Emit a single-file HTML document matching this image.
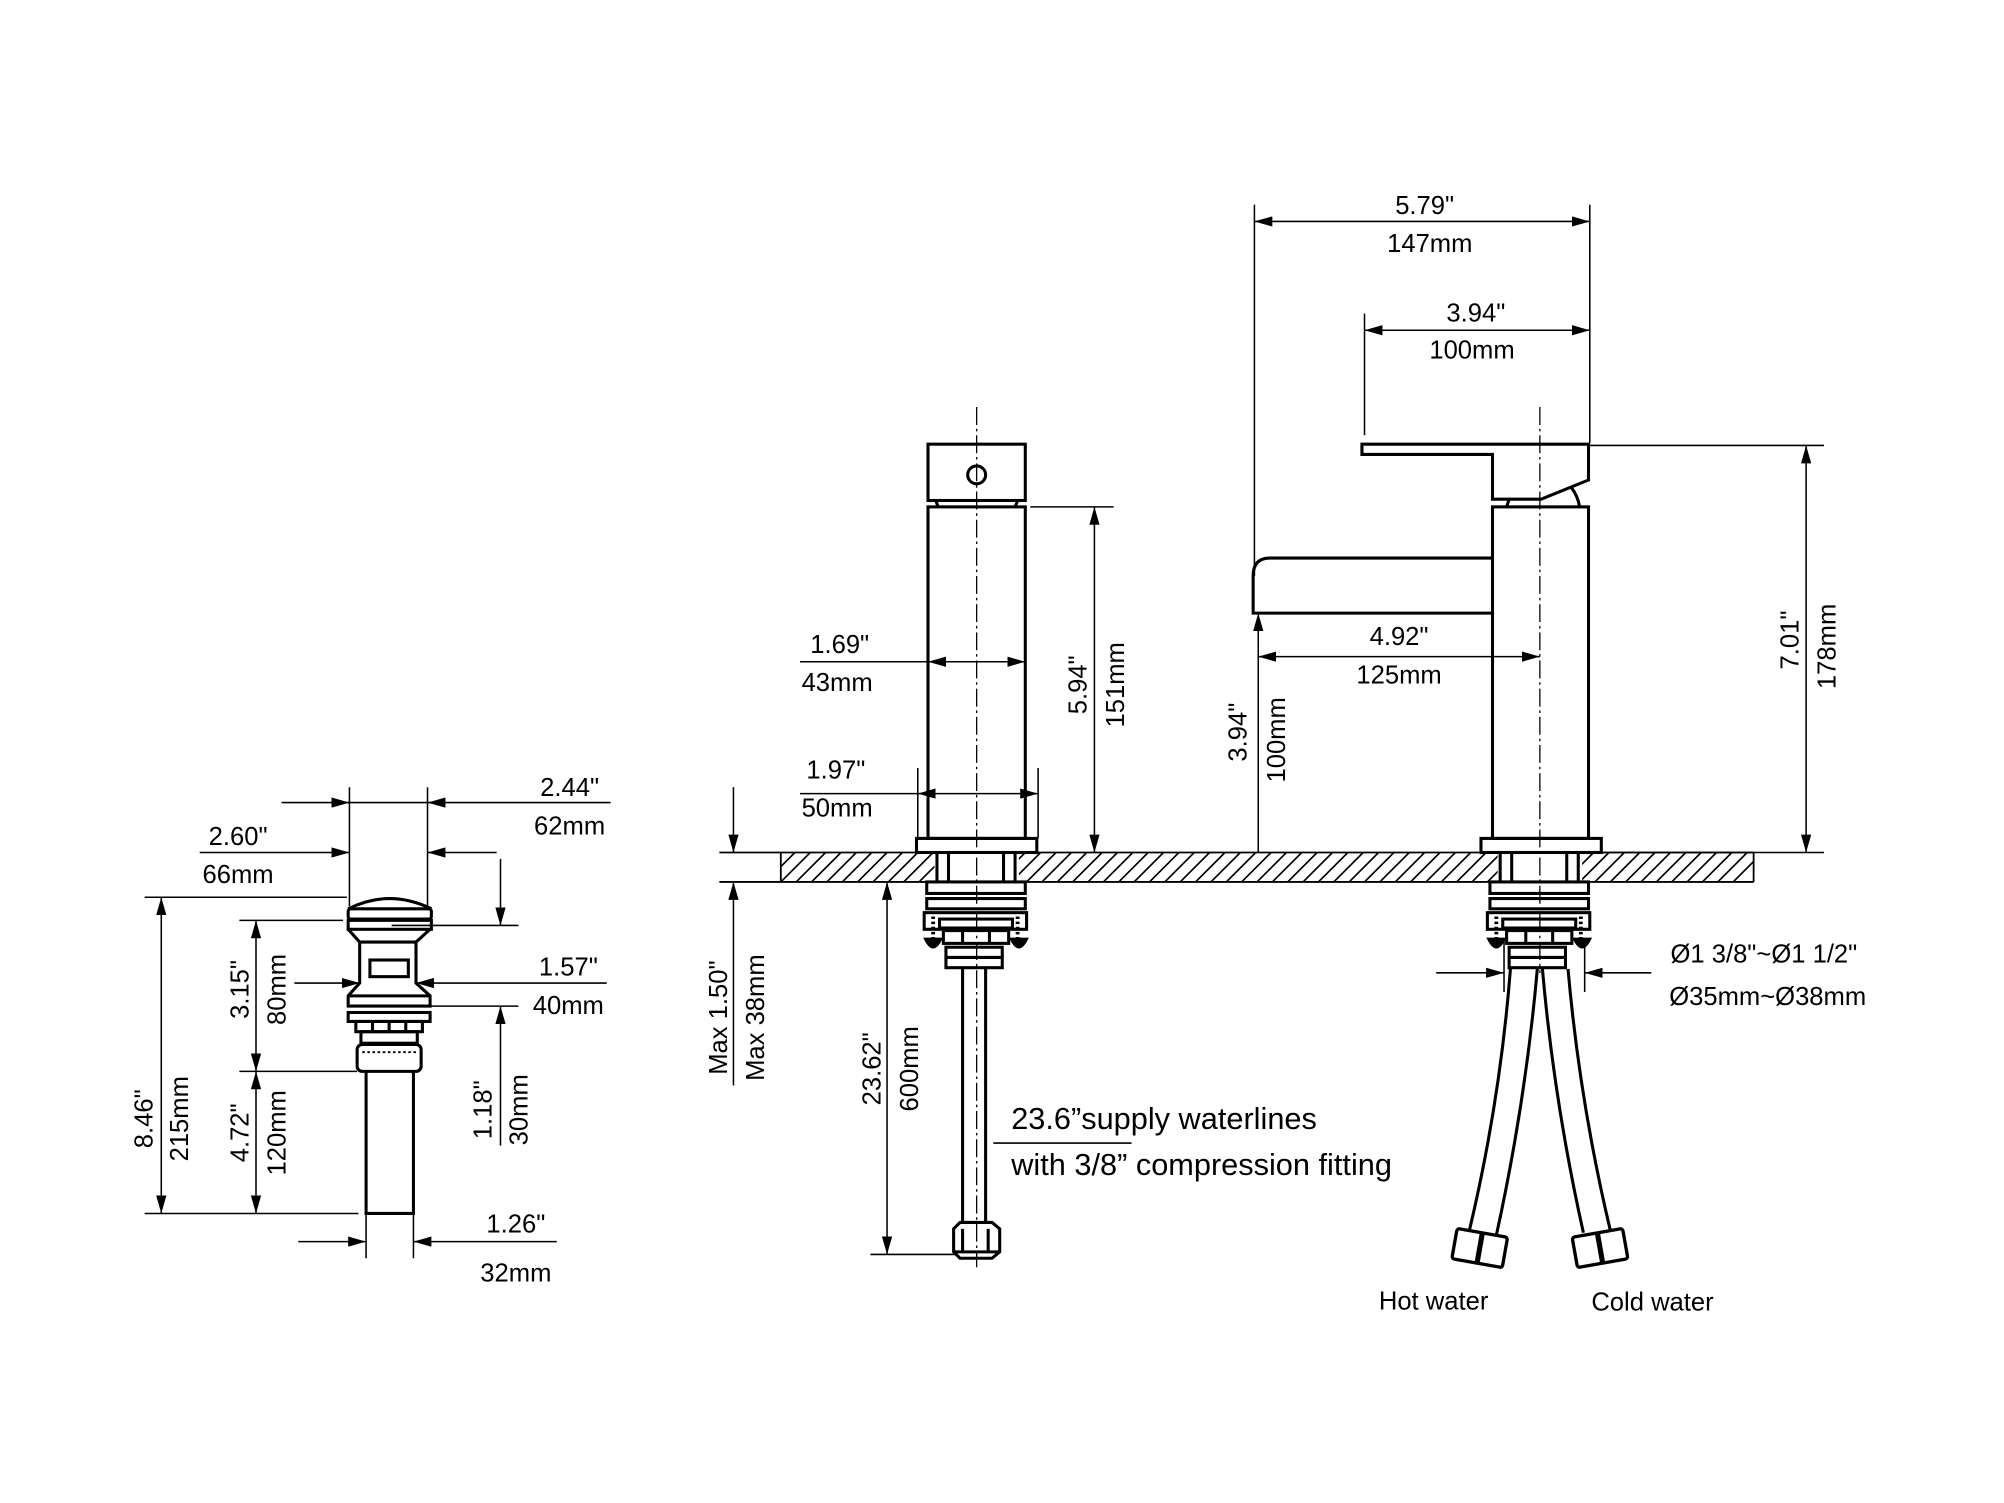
<!DOCTYPE html>
<html><head><meta charset="utf-8"><style>
html,body{margin:0;padding:0;background:#fff}
svg{display:block}
text{font-family:"Liberation Sans",sans-serif;font-size:20px;fill:#000}
</style></head><body>
<svg width="2004" height="1503" viewBox="0 0 1565.6 1174.2" preserveAspectRatio="none" xmlns="http://www.w3.org/2000/svg">
<defs>
<marker id="a" viewBox="0 0 14 8" refX="14" refY="4" markerWidth="14" markerHeight="8" markerUnits="userSpaceOnUse" orient="auto"><path d="M0,0 L14,4 L0,8 Z" fill="#000"/></marker>
<marker id="s" viewBox="0 0 14 8" refX="0" refY="4" markerWidth="14" markerHeight="8" markerUnits="userSpaceOnUse" orient="auto"><path d="M14,0 L0,4 L14,8 Z" fill="#000"/></marker>
<clipPath id="cp"><rect x="610" y="666" width="760" height="23"/></clipPath>
</defs>
<rect width="1566" height="1175" fill="#fff"/>

<g clip-path="url(#cp)" stroke="#000" stroke-width="1.3">
<path d="M598,689 L621,666 M610,689 L633,666 M622,689 L645,666 M634,689 L657,666 M646,689 L669,666 M658,689 L681,666 M670,689 L693,666 M682,689 L705,666 M694,689 L717,666 M706,689 L729,666 M718,689 L741,666 M730,689 L753,666 M742,689 L765,666 M754,689 L777,666 M766,689 L789,666 M778,689 L801,666 M790,689 L813,666 M802,689 L825,666 M814,689 L837,666 M826,689 L849,666 M838,689 L861,666 M850,689 L873,666 M862,689 L885,666 M874,689 L897,666 M886,689 L909,666 M898,689 L921,666 M910,689 L933,666 M922,689 L945,666 M934,689 L957,666 M946,689 L969,666 M958,689 L981,666 M970,689 L993,666 M982,689 L1005,666 M994,689 L1017,666 M1006,689 L1029,666 M1018,689 L1041,666 M1030,689 L1053,666 M1042,689 L1065,666 M1054,689 L1077,666 M1066,689 L1089,666 M1078,689 L1101,666 M1090,689 L1113,666 M1102,689 L1125,666 M1114,689 L1137,666 M1126,689 L1149,666 M1138,689 L1161,666 M1150,689 L1173,666 M1162,689 L1185,666 M1174,689 L1197,666 M1186,689 L1209,666 M1198,689 L1221,666 M1210,689 L1233,666 M1222,689 L1245,666 M1234,689 L1257,666 M1246,689 L1269,666 M1258,689 L1281,666 M1270,689 L1293,666 M1282,689 L1305,666 M1294,689 L1317,666 M1306,689 L1329,666 M1318,689 L1341,666 M1330,689 L1353,666 M1342,689 L1365,666 M1354,689 L1377,666"/>
</g>
<rect x="730" y="667" width="66" height="21" fill="#fff"/>
<rect x="1170" y="667" width="66" height="21" fill="#fff"/>
<g stroke="#000" fill="none">
<path d="M562,666 H1370 M562,689 H1370 M610,666 V689 M1370,666 V689" stroke-width="1.4"/>
</g>

<g stroke="#000" fill="none" stroke-width="2.4">
<rect x="725" y="347" width="76" height="44"/>
<circle cx="763" cy="371" r="7"/>
<path d="M731,391 L733,396 M795,391 L793,396"/>
<rect x="725" y="396" width="76" height="259"/>
<rect x="716" y="655" width="94" height="11"/>
<path d="M732,666 V689 M741,666 V689 M784,666 V689 M793,666 V689"/>
<rect x="724" y="689" width="77" height="9"/>
<rect x="724" y="702" width="77" height="8"/>
<rect x="722" y="713" width="80" height="13"/>
<rect x="734" y="718" width="57" height="7"/>
<rect x="737" y="727" width="51" height="10"/>
<path d="M752,727 V737 M773,727 V737"/>
<rect x="739" y="740" width="44" height="16"/>
<path d="M739,748 H783"/>
<path d="M752,756 V956 M770,756 V956"/>
<path d="M745,960 L750,955 H775 L781,960 V978 L775,983 H750 L745,978 Z M745,978 H781 M752,960 V978 M772,960 V978"/>
</g>
<g stroke="#000" fill="#000">
<path d="M729,716 V734 M795,716 V734" stroke-width="3" stroke-dasharray="2,2"/>
<path d="M722,733 Q729,748 736,733 Z M789,733 Q796,748 803,733 Z"/>
</g>
<path d="M763,318 V990" stroke="#000" stroke-width="1" stroke-dasharray="14,3,2,3" fill="none"/>

<g stroke="#000" stroke-width="1.2" fill="none">
<path d="M625,517 H725"/>
<path d="M725,517 H801" marker-start="url(#s)" marker-end="url(#a)"/>
<path d="M717,600 V655 M811,600 V655"/>
<path d="M625,620 H717"/>
<path d="M717,620 H811" marker-start="url(#s)" marker-end="url(#a)"/>
<path d="M805,396 H870"/>
<path d="M855,396 V666" marker-start="url(#s)" marker-end="url(#a)"/>
<path d="M573,615 V666" marker-end="url(#a)"/>
<path d="M573,848 V689" marker-end="url(#a)"/>
<path d="M693,689 V980" marker-start="url(#s)" marker-end="url(#a)"/>
<path d="M680,980 H748"/>
<path d="M776,893 H884"/>
</g>
<text x="656" y="510" text-anchor="middle">1.69"</text>
<text x="654" y="540" text-anchor="middle">43mm</text>
<text x="653" y="608" text-anchor="middle">1.97"</text>
<text x="654" y="638" text-anchor="middle">50mm</text>
<text transform="translate(849,535) rotate(-90)" text-anchor="middle">5.94"</text>
<text transform="translate(878,535) rotate(-90)" text-anchor="middle">151mm</text>
<text transform="translate(568,795) rotate(-90)" text-anchor="middle">Max 1.50"</text>
<text transform="translate(597,795) rotate(-90)" text-anchor="middle">Max 38mm</text>
<text transform="translate(688,835) rotate(-90)" text-anchor="middle">23.62"</text>
<text transform="translate(717,835) rotate(-90)" text-anchor="middle">600mm</text>
<text x="790" y="882" style="font-size:24px">23.6”supply waterlines</text>
<text x="790" y="918" style="font-size:24px">with 3/8” compression fitting</text>

<g stroke="#000" fill="none" stroke-width="2.4">
<path d="M1064,347 H1241 V375 L1204,390 H1166 V355 H1064 Z"/>
<path d="M1179,390 L1177,396 M1227,380 Q1233,388 1234,396"/>
<rect x="1166" y="396" width="75" height="259"/>
<path d="M1166,436 H992 Q979,436 979,450 V479 H1166"/>
<rect x="1157" y="655" width="94" height="11"/>
<path d="M1172,666 V689 M1181,666 V689 M1224,666 V689 M1233,666 V689"/>
<rect x="1164" y="689" width="77" height="9"/>
<rect x="1164" y="702" width="77" height="8"/>
<rect x="1162" y="713" width="80" height="13"/>
<rect x="1174" y="718" width="57" height="7"/>
<rect x="1177" y="727" width="51" height="10"/>
<path d="M1192,727 V737 M1213,727 V737"/>
<rect x="1179" y="740" width="44" height="16"/>
<path d="M1179,748 H1223"/>
<path d="M1180,757 Q1172,860 1148,961 M1201,757 Q1192,860 1169,965"/>
<path d="M1205,757 Q1214,860 1237,963 M1225,757 Q1234,860 1258,961"/>
</g>
<g stroke="#000" fill="#000">
<path d="M1169,716 V734 M1235,716 V734" stroke-width="3" stroke-dasharray="2,2"/>
<path d="M1162,733 Q1169,748 1176,733 Z M1229,733 Q1236,748 1243,733 Z"/>
</g>
<g stroke="#000" fill="none" stroke-width="2.6">
<g transform="translate(1156,975) rotate(10)"><rect x="-20" y="-12" width="40" height="24" rx="2"/><path d="M0,-12 V12" stroke-width="4"/></g>
<g transform="translate(1250,975) rotate(-10)"><rect x="-20" y="-12" width="40" height="24" rx="2"/><path d="M0,-12 V12" stroke-width="4"/></g>
</g>
<path d="M1203,318 V760" stroke="#000" stroke-width="1" stroke-dasharray="14,3,2,3" fill="none"/>

<g stroke="#000" stroke-width="1.2" fill="none">
<path d="M980,160 V450 M1242,160 V346"/>
<path d="M980,173 H1242" marker-start="url(#s)" marker-end="url(#a)"/>
<path d="M1066,245 V340"/>
<path d="M1066,258 H1242" marker-start="url(#s)" marker-end="url(#a)"/>
<path d="M983,513 H1203" marker-start="url(#s)" marker-end="url(#a)"/>
<path d="M983,666 V479" marker-end="url(#a)"/>
<path d="M1242,348 H1425 M1251,666 H1425"/>
<path d="M1411,348 V666" marker-start="url(#s)" marker-end="url(#a)"/>
<path d="M1175,735 V775 M1238,735 V775"/>
<path d="M1122,760 H1175" marker-end="url(#a)"/>
<path d="M1290,760 H1238" marker-end="url(#a)"/>
</g>
<text x="1113" y="167" text-anchor="middle">5.79"</text>
<text x="1117" y="197" text-anchor="middle">147mm</text>
<text x="1153" y="251" text-anchor="middle">3.94"</text>
<text x="1150" y="280" text-anchor="middle">100mm</text>
<text x="1093" y="504" text-anchor="middle">4.92"</text>
<text x="1093" y="534" text-anchor="middle">125mm</text>
<text transform="translate(974,572) rotate(-90)" text-anchor="middle">3.94"</text>
<text transform="translate(1004,578) rotate(-90)" text-anchor="middle">100mm</text>
<text transform="translate(1405,500) rotate(-90)" text-anchor="middle">7.01"</text>
<text transform="translate(1434,505) rotate(-90)" text-anchor="middle">178mm</text>
<text x="1378" y="752" text-anchor="middle">Ø1 3/8"~Ø1 1/2"</text>
<text x="1381" y="785" text-anchor="middle">Ø35mm~Ø38mm</text>
<text x="1120" y="1023" text-anchor="middle">Hot water</text>
<text x="1291" y="1024" text-anchor="middle">Cold water</text>

<g stroke="#000" fill="none" stroke-width="2.4">
<path d="M272,710 Q304,694 337,710"/>
<rect x="272" y="710" width="65" height="8" rx="2"/>
<rect x="272" y="719" width="65" height="7"/>
<path d="M272,726 L281,736 V768 L272,778 V786 H336 V778 L325,768 V736 L336,726"/>
<path d="M281,736 H325 M272,778 H336"/>
<rect x="289" y="750" width="30" height="13"/>
<rect x="272" y="791" width="64" height="7"/>
<rect x="278" y="798" width="52" height="8"/>
<path d="M291,798 V806 M304,798 V806 M317,798 V806"/>
<rect x="282" y="806" width="44" height="9"/>
<rect x="279" y="816" width="50" height="21" rx="4"/>
<path d="M283,822 H325" stroke-width="1.5" stroke-dasharray="2,2"/>
<path d="M286,837 V948 H323 V837"/>
</g>
<g stroke="#000" stroke-width="1.2" fill="none">
<path d="M273,615 V708 M334,615 V708"/>
<path d="M220,627 H273" marker-end="url(#a)"/>
<path d="M477,627 H334" marker-end="url(#a)"/>
<path d="M273,627 H334"/>
<path d="M156,666 H273" marker-end="url(#a)"/>
<path d="M388,666 H334" marker-end="url(#a)"/>
<path d="M113,701 H271 M113,948 H280"/>
<path d="M126,701 V948" marker-start="url(#s)" marker-end="url(#a)"/>
<path d="M187,719 H268 M187,837 H279"/>
<path d="M200,719 V837" marker-start="url(#s)" marker-end="url(#a)"/>
<path d="M200,837 V948" marker-start="url(#s)" marker-end="url(#a)"/>
<path d="M230,768 H281" marker-end="url(#a)"/>
<path d="M474,768 H325" marker-end="url(#a)"/>
<path d="M306,723 H405 M306,786 H405"/>
<path d="M391,671 V723" marker-end="url(#a)"/>
<path d="M391,895 V786" marker-end="url(#a)"/>
<path d="M286,949 V983 M323,949 V983"/>
<path d="M233,970 H286" marker-end="url(#a)"/>
<path d="M435,970 H323" marker-end="url(#a)"/>
</g>
<text x="445" y="622" text-anchor="middle">2.44"</text>
<text x="445" y="652" text-anchor="middle">62mm</text>
<text x="186" y="660" text-anchor="middle">2.60"</text>
<text x="186" y="690" text-anchor="middle">66mm</text>
<text transform="translate(119,874) rotate(-90)" text-anchor="middle">8.46"</text>
<text transform="translate(147,874) rotate(-90)" text-anchor="middle">215mm</text>
<text transform="translate(194,773) rotate(-90)" text-anchor="middle">3.15"</text>
<text transform="translate(223,773) rotate(-90)" text-anchor="middle">80mm</text>
<text transform="translate(194,885) rotate(-90)" text-anchor="middle">4.72"</text>
<text transform="translate(223,885) rotate(-90)" text-anchor="middle">120mm</text>
<text x="444" y="762" text-anchor="middle">1.57"</text>
<text x="444" y="792" text-anchor="middle">40mm</text>
<text transform="translate(384,867) rotate(-90)" text-anchor="middle">1.18"</text>
<text transform="translate(412,867) rotate(-90)" text-anchor="middle">30mm</text>
<text x="403" y="963" text-anchor="middle">1.26"</text>
<text x="403" y="1001" text-anchor="middle">32mm</text>
</svg>
</body></html>
